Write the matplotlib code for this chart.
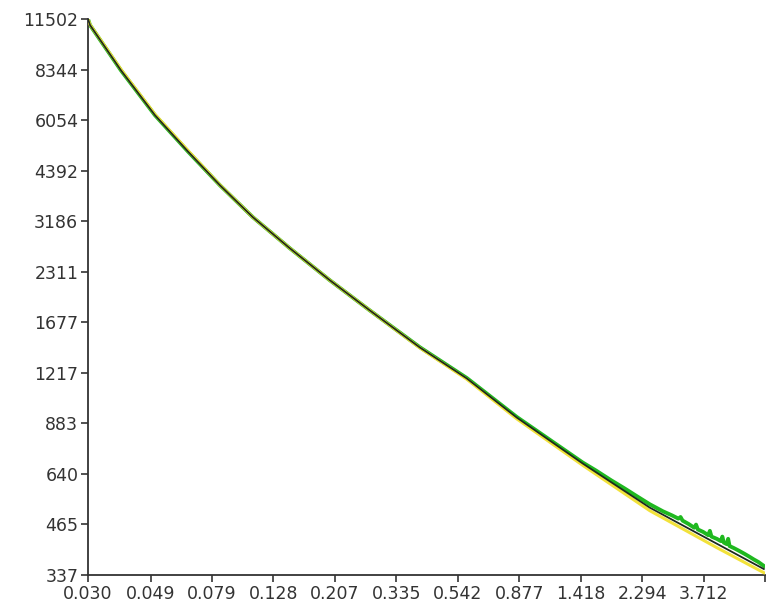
import matplotlib
matplotlib.use("Agg")
import matplotlib.pyplot as plt
from matplotlib.ticker import NullLocator, FixedLocator, FixedFormatter

# ---- data ----
x_fit = [0.030, 0.03047, 0.03884, 0.05067, 0.06560, 0.08424, 0.10908, 0.1457,
         0.1993, 0.2724, 0.4030, 0.5819, 0.8607, 1.4427, 2.4368, 4.117, 5.95]
y_fit = [11502, 11071, 8300, 6245, 4960, 4003, 3267, 2682,
         2189, 1808, 1429, 1174, 915.6, 683.8, 516.9, 411.1, 350]

x_yellow = [0.030, 0.03047, 0.03884, 0.05067, 0.06560, 0.08424, 0.10908, 0.1457,
            0.1993, 0.2724, 0.4030, 0.5819, 0.8607, 1.4427, 2.4368, 4.117, 5.95]
y_yellow = [11502, 11100, 8350, 6280, 4990, 4010, 3267, 2682,
            2189, 1808, 1425, 1168, 908, 676, 507, 401, 342]

x_green = [0.030, 0.03047, 0.03884, 0.05067, 0.06560, 0.08424, 0.10908, 0.1457,
           0.1993, 0.2724, 0.4030, 0.5819, 0.8607, 1.4427, 1.6, 1.8, 2.0, 2.2,
           2.4368, 2.7, 2.9, 3.05, 3.1, 3.15, 3.3, 3.45, 3.5, 3.55, 3.7,
           3.85, 3.9, 3.95, 4.117, 4.25, 4.3, 4.35, 4.45, 4.5, 4.55, 4.7,
           4.9, 5.1, 5.3, 5.5, 5.7, 5.95]
y_green = [11502, 11071, 8300, 6245, 4960, 4003, 3267, 2682,
           2189, 1808, 1431, 1177, 919, 688, 654, 615, 584, 556,
           528, 505, 492, 482, 487, 476, 466, 455, 464, 450, 443,
           434, 446, 430, 424, 418, 430, 414, 410, 424, 405, 400,
           393, 386, 379, 372, 366, 357]

x_ticks = [0.030, 0.049, 0.079, 0.128, 0.207, 0.335, 0.542, 0.877, 1.418, 2.294, 3.712, 6.006]
x_labels = ["0.030", "0.049", "0.079", "0.128", "0.207", "0.335", "0.542", "0.877",
            "1.418", "2.294", "3.712", ""]
y_ticks = [337, 465, 640, 883, 1217, 1677, 2311, 3186, 4392, 6054, 8344, 11502]
y_labels = [str(v) for v in y_ticks]

plt.rcParams['font.family'] = ['DejaVu Sans']

fig = plt.figure(figsize=(7.8, 6.13), dpi=100)
ax = fig.add_axes([0.1128, 0.062, 0.868, 0.907])

ax.plot(x_green, y_green, color="#1fb81f", lw=2.8, zorder=2)
ax.plot(x_yellow, y_yellow, color="#f2e23a", lw=2.2, zorder=3)
ax.plot(x_fit, y_fit, color="#1e2a1e", lw=1.3, zorder=4)

ax.set_xscale("log")
ax.set_yscale("log")
ax.set_xlim(0.030, 6.006)
ax.set_ylim(337, 11502)

ax.xaxis.set_major_locator(FixedLocator(x_ticks))
ax.xaxis.set_major_formatter(FixedFormatter(x_labels))
ax.yaxis.set_major_locator(FixedLocator(y_ticks))
ax.yaxis.set_major_formatter(FixedFormatter(y_labels))
ax.xaxis.set_minor_locator(NullLocator())
ax.yaxis.set_minor_locator(NullLocator())

for s in ("top", "right"):
    ax.spines[s].set_visible(False)
for s in ("left", "bottom"):
    ax.spines[s].set_color("#333333")
    ax.spines[s].set_linewidth(1.3)

ax.tick_params(axis="both", direction="out", length=5, width=1.2, color="#333333",
               labelsize=12.5, labelcolor="#333333", pad=2)

fig.savefig("out.png", dpi=100, facecolor="white")
